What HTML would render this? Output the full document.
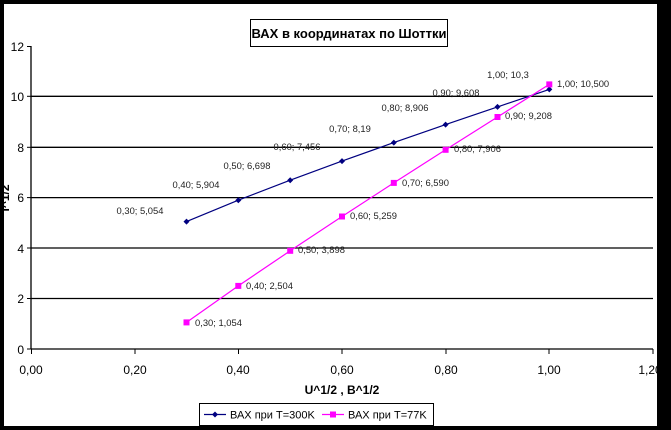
<!DOCTYPE html>
<html><head><meta charset="utf-8"><style>
html,body{margin:0;padding:0;background:#000;}
svg{display:block;font-family:"Liberation Sans",sans-serif;}
</style></head><body>
<svg width="671" height="430" viewBox="0 0 671 430" xmlns="http://www.w3.org/2000/svg">
<rect x="0" y="0" width="671" height="430" fill="#000"/>
<rect x="4" y="4" width="653" height="422" fill="#fff"/>
<g stroke="#000" stroke-width="1.3">
<line x1="31" y1="96.3" x2="653" y2="96.3"/>
<line x1="31" y1="147.3" x2="653" y2="147.3"/>
<line x1="31" y1="197.6" x2="653" y2="197.6"/>
<line x1="31" y1="248" x2="653" y2="248"/>
<line x1="31" y1="298.5" x2="653" y2="298.5"/>
<line x1="31" y1="349" x2="653" y2="349"/>
<line x1="31" y1="46" x2="31" y2="349"/>
</g>
<g stroke="#000" stroke-width="1">
<line x1="27" y1="46.5" x2="31" y2="46.5"/><line x1="27" y1="96.3" x2="31" y2="96.3"/><line x1="27" y1="147.3" x2="31" y2="147.3"/><line x1="27" y1="197.6" x2="31" y2="197.6"/><line x1="27" y1="248" x2="31" y2="248"/><line x1="27" y1="298.5" x2="31" y2="298.5"/><line x1="27" y1="349" x2="31" y2="349"/>
<line x1="31.5" y1="349" x2="31.5" y2="354"/><line x1="135" y1="349" x2="135" y2="354"/><line x1="238.5" y1="349" x2="238.5" y2="354"/><line x1="342" y1="349" x2="342" y2="354"/><line x1="446" y1="349" x2="446" y2="354"/><line x1="549" y1="349" x2="549" y2="354"/><line x1="653" y1="349" x2="653" y2="354"/>
</g>
<g font-size="12" fill="#000" text-anchor="end">
<text x="24" y="51">12</text><text x="24" y="101">10</text><text x="24" y="152">8</text><text x="24" y="202">6</text><text x="24" y="253">4</text><text x="24" y="303">2</text><text x="24" y="354">0</text>
</g>
<g font-size="12" fill="#000" text-anchor="middle">
<text x="31" y="374">0,00</text><text x="135" y="374">0,20</text><text x="238" y="374">0,40</text><text x="342" y="374">0,60</text><text x="446" y="374">0,80</text><text x="549" y="374">1,00</text><text x="650" y="374">1,20</text>
</g>
<text x="342" y="394" font-size="12" font-weight="bold" text-anchor="middle">U^1/2 , B^1/2</text>
<text transform="translate(9,198) rotate(-90)" font-size="12" font-weight="bold" text-anchor="middle">I^1/2</text>
<rect x="250.5" y="19.5" width="197" height="27" fill="#fff" stroke="#000"/>
<text x="349" y="38" font-size="13" font-weight="bold" text-anchor="middle">ВАХ в координатах по Шоттки</text>
<polyline fill="none" stroke="#000080" stroke-width="1.2" points="186.5,221.6 238.3,200.2 290.2,180.2 342,161.1 393.8,142.6 445.6,124.6 497.5,106.9 549.3,89.4"/>
<g fill="#000080">
<path d="M186.5,218.6l3,3l-3,3l-3,-3z"/><path d="M238.3,197.2l3,3l-3,3l-3,-3z"/><path d="M290.2,177.2l3,3l-3,3l-3,-3z"/><path d="M342,158.1l3,3l-3,3l-3,-3z"/><path d="M393.8,139.6l3,3l-3,3l-3,-3z"/><path d="M445.6,121.6l3,3l-3,3l-3,-3z"/><path d="M497.5,103.9l3,3l-3,3l-3,-3z"/><path d="M549.3,86.4l3,3l-3,3l-3,-3z"/>
</g>
<polyline fill="none" stroke="#ff00ff" stroke-width="1.2" points="186.5,322.4 238.3,285.9 290.2,250.8 342,216.5 393.8,182.9 445.6,149.8 497.5,117 549.3,84.4"/>
<g fill="#ff00ff">
<rect x="183.5" y="319.4" width="6" height="6"/><rect x="235.3" y="282.9" width="6" height="6"/><rect x="287.2" y="247.8" width="6" height="6"/><rect x="339" y="213.5" width="6" height="6"/><rect x="390.8" y="179.9" width="6" height="6"/><rect x="442.6" y="146.8" width="6" height="6"/><rect x="494.5" y="114" width="6" height="6"/><rect x="546.3" y="81.4" width="6" height="6"/>
</g>
<g font-size="9.4" fill="#222" text-anchor="middle">
<text x="140" y="214">0,30; 5,054</text><text x="196" y="188">0,40; 5,904</text><text x="247" y="169">0,50; 6,698</text><text x="297" y="150">0,60; 7,456</text><text x="350" y="132">0,70; 8,19</text><text x="405" y="111">0,80; 8,906</text><text x="456" y="96">0,90; 9,608</text><text x="508" y="78">1,00; 10,3</text>
</g>
<g font-size="9.4" fill="#222">
<text x="195" y="326">0,30; 1,054</text><text x="246" y="289">0,40; 2,504</text><text x="298" y="253">0,50; 3,898</text><text x="350" y="219">0,60; 5,259</text><text x="402" y="186">0,70; 6,590</text><text x="454" y="152">0,80; 7,906</text><text x="505" y="119">0,90; 9,208</text><text x="557" y="87">1,00; 10,500</text>
</g>
<rect x="199.5" y="403.5" width="234" height="22" fill="#fff" stroke="#000"/>
<line x1="204" y1="414.5" x2="226" y2="414.5" stroke="#000080" stroke-width="1.2"/>
<path d="M215,411.5l3,3l-3,3l-3,-3z" fill="#000080"/>
<text x="230" y="418.5" font-size="11">ВАХ при T=300K</text>
<line x1="322" y1="414.5" x2="344" y2="414.5" stroke="#ff00ff" stroke-width="1.2"/>
<rect x="330" y="411.5" width="6" height="6" fill="#ff00ff"/>
<text x="348" y="418.5" font-size="11">ВАХ при T=77K</text>
</svg>
</body></html>
